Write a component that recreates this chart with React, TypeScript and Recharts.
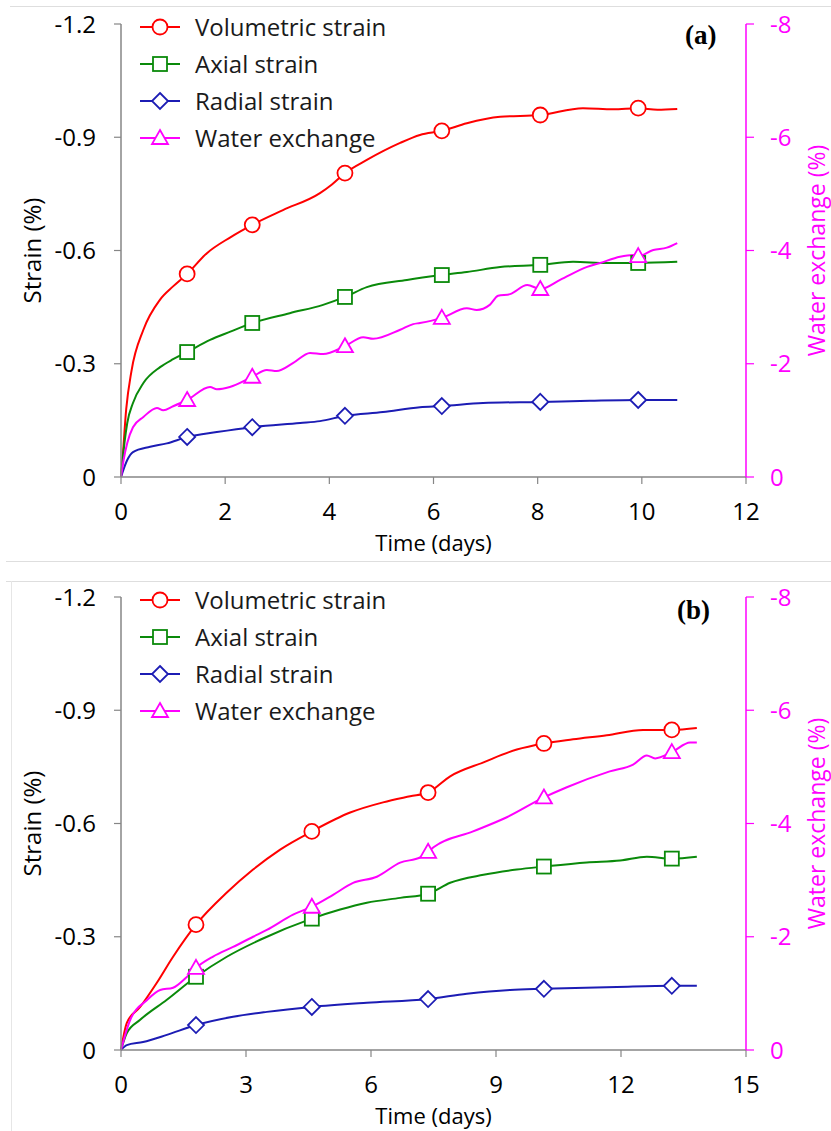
import { LineChart, Line, XAxis, YAxis, Legend, Label } from 'recharts';

type Pt = [number, number];

// ---- panel (a) ----
const volA: Pt[] = [
  [0, 0], [0.02, -0.03], [0.1, -0.18], [0.2, -0.28], [0.43, -0.39], [0.75, -0.47], [1.0, -0.505],
  [1.27, -0.538], [1.65, -0.593], [2.1, -0.635], [2.52, -0.668], [3.11, -0.707], [3.82, -0.752],
  [4.05, -0.775], [4.3, -0.805], [4.72, -0.84], [5.36, -0.885], [5.74, -0.906], [6.16, -0.917],
  [6.64, -0.937], [7.28, -0.954], [8.05, -0.959], [8.87, -0.977], [9.45, -0.974], [9.93, -0.977],
  [10.3, -0.973], [10.68, -0.975],
];
const axialA: Pt[] = [
  [0, 0], [0.02, -0.03], [0.12, -0.143], [0.23, -0.196], [0.43, -0.249], [0.75, -0.291], [1.0, -0.312],
  [1.27, -0.331], [1.71, -0.363], [2.1, -0.385], [2.52, -0.408], [3.24, -0.434], [3.88, -0.456],
  [4.3, -0.477], [4.72, -0.503], [5.49, -0.522], [6.16, -0.535], [6.64, -0.543], [7.28, -0.556],
  [8.05, -0.562], [8.68, -0.57], [9.33, -0.567], [9.93, -0.567], [10.68, -0.57],
];
const radialA: Pt[] = [
  [0, 0], [0.12, -0.045], [0.23, -0.066], [0.56, -0.08], [0.88, -0.089], [1.27, -0.106], [1.84, -0.119],
  [2.52, -0.132], [3.44, -0.143], [3.82, -0.148], [4.3, -0.162], [5.03, -0.172], [5.74, -0.185],
  [6.16, -0.188], [6.95, -0.196], [8.05, -0.199], [9.0, -0.202], [9.93, -0.204], [10.68, -0.204],
];
const waterA: Pt[] = [
  [0, 0], [0.05, -0.3], [0.12, -0.6], [0.23, -0.88], [0.43, -1.06], [0.69, -1.22], [0.81, -1.18],
  [1.0, -1.25], [1.27, -1.36], [1.71, -1.59], [1.84, -1.55], [2.09, -1.59], [2.52, -1.77], [2.8, -1.89],
  [2.99, -1.87], [3.3, -2.01], [3.63, -2.19], [3.88, -2.17], [4.3, -2.31], [4.65, -2.47], [4.84, -2.44],
  [5.36, -2.6], [5.61, -2.7], [5.74, -2.72], [6.16, -2.81], [6.64, -2.98], [6.83, -2.95], [7.08, -3.04],
  [7.24, -3.2], [7.47, -3.23], [7.8, -3.39], [8.05, -3.32], [8.43, -3.48], [8.95, -3.71], [9.2, -3.78],
  [9.58, -3.89], [9.83, -3.92], [9.93, -3.9], [10.22, -4.01], [10.48, -4.05], [10.68, -4.13],
];
const marksA = [1.27, 2.52, 4.3, 6.16, 8.05, 9.93];
const timeTicksA = [0, 2, 4, 6, 8, 10, 12];

// ---- panel (b) ----
const volB: Pt[] = [
  [0, 0], [0.14, -0.072], [0.46, -0.114], [0.86, -0.178], [1.25, -0.247], [1.8, -0.332], [2.54, -0.417],
  [3.17, -0.478], [3.82, -0.531], [4.58, -0.579], [5.5, -0.629], [6.29, -0.656], [6.94, -0.672],
  [7.37, -0.682], [7.9, -0.725], [8.7, -0.762], [9.5, -0.796], [10.15, -0.812], [10.85, -0.823],
  [11.66, -0.834], [12.53, -0.848], [13.22, -0.848], [13.82, -0.853],
];
const axialB: Pt[] = [
  [0, 0], [0.14, -0.045], [0.46, -0.08], [1.1, -0.133], [1.8, -0.194], [2.54, -0.247], [3.34, -0.292],
  [4.58, -0.348], [5.26, -0.372], [5.9, -0.39], [6.7, -0.403], [7.37, -0.414], [7.9, -0.443],
  [8.7, -0.464], [9.5, -0.478], [10.15, -0.486], [11.18, -0.497], [11.98, -0.502], [12.62, -0.512],
  [13.22, -0.507], [13.82, -0.512],
];
const radialB: Pt[] = [
  [0, 0], [0.14, -0.013], [0.53, -0.021], [1.1, -0.04], [1.8, -0.066], [2.69, -0.088], [3.5, -0.101],
  [4.58, -0.114], [5.9, -0.125], [7.37, -0.135], [8.3, -0.149], [9.34, -0.159], [10.15, -0.162],
  [11.9, -0.167], [13.22, -0.17], [13.82, -0.17],
];
const waterB: Pt[] = [
  [0, 0], [0.22, -0.53], [0.62, -0.88], [0.94, -1.06], [1.25, -1.1], [1.58, -1.29], [1.8, -1.45],
  [2.21, -1.65], [2.69, -1.82], [3.17, -2.0], [3.5, -2.12], [4.13, -2.39], [4.58, -2.53], [5.09, -2.74],
  [5.57, -2.95], [6.14, -3.06], [6.7, -3.31], [7.18, -3.4], [7.37, -3.5], [7.5, -3.58], [8.45, -3.86],
  [9.26, -4.11], [10.15, -4.46], [10.7, -4.64], [11.73, -4.92], [12.29, -5.04], [12.62, -5.2],
  [12.82, -5.15], [13.22, -5.26], [13.66, -5.43], [13.82, -5.43],
];
const marksB = [1.8, 4.58, 7.37, 10.15, 13.22];
const timeTicksB = [0, 3, 6, 9, 12, 15];

const strainTicks = [0, -0.3, -0.6, -0.9, -1.2];
const waterTicks = [0, -2, -4, -6, -8];

const SERIES = [
  { key: 'vol', name: 'Volumetric strain', color: '#ff0000', shape: 'circle', axis: 'strain' },
  { key: 'axial', name: 'Axial strain', color: '#0a8a0a', shape: 'square', axis: 'strain' },
  { key: 'radial', name: 'Radial strain', color: '#1c1cb4', shape: 'diamond', axis: 'strain' },
  { key: 'water', name: 'Water exchange', color: '#ff00ff', shape: 'triangle', axis: 'water' },
];

const GRAY = '#868686';
const MAG = '#ff00ff';

function Marker({ shape, cx, cy, color }: { shape: string; cx: number; cy: number; color: string }) {
  const p = { fill: '#fff', stroke: color, strokeWidth: 1.8 };
  if (shape === 'circle') return <circle cx={cx} cy={cy} r={7.5} {...p} />;
  if (shape === 'square') return <rect x={cx - 7} y={cy - 7} width={14} height={14} {...p} />;
  if (shape === 'diamond')
    return <path d={`M${cx},${cy - 8}L${cx + 8},${cy}L${cx},${cy + 8}L${cx - 8},${cy}Z`} {...p} />;
  return <path d={`M${cx},${cy - 8}L${cx + 8},${cy + 6}L${cx - 8},${cy + 6}Z`} {...p} />;
}

const LegendBox = () => (
  <div>
    {SERIES.map((s) => (
      <div key={s.key} style={{ display: 'flex', alignItems: 'center', height: 37 }}>
        <svg width={44} height={20}>
          <line x1={2} x2={42} y1={10} y2={10} stroke={s.color} strokeWidth={1.8} />
          <Marker shape={s.shape} cx={22} cy={10} color={s.color} />
        </svg>
        <span style={{ marginLeft: 13, fontSize: 24, color: '#1a1a1a', whiteSpace: 'nowrap' }}>{s.name}</span>
      </div>
    ))}
  </div>
);

const rows = (pts: Pt[]) => pts.map(([x, y]) => ({ x, y }));

function Panel({ tag, tagLeft, tagTop, data, marks, xMax, xTicks }: {
  tag: string; tagLeft: number; tagTop: number; data: Pt[][]; marks: number[]; xMax: number; xTicks: number[];
}) {
  return (
    <div style={{ position: 'relative', width: 831, height: 557 }}>
      <LineChart width={831} height={557} margin={{ top: 24, right: 0, bottom: 0, left: 0 }}>
        <XAxis dataKey="x" type="number" domain={[0, xMax]} ticks={xTicks} height={80}
          tickSize={7} tickMargin={19} axisLine={{ stroke: GRAY, strokeWidth: 1.5 }}
          tickLine={{ stroke: GRAY, strokeWidth: 1.2 }} tick={{ fill: '#000', fontSize: 24 }}>
          <Label value="Time (days)" position="insideBottom" offset={6} fill="#000" fontSize={22} />
        </XAxis>
        <YAxis yAxisId="strain" width={121} domain={[-1.2, 0]} reversed ticks={strainTicks}
          tickSize={7} tickMargin={18} axisLine={{ stroke: GRAY, strokeWidth: 1.5 }}
          tickLine={{ stroke: GRAY, strokeWidth: 1.2 }} tick={{ fill: '#000', fontSize: 24 }}>
          <Label value="Strain (%)" angle={-90} position="center" dx={-28} fill="#000" fontSize={24} />
        </YAxis>
        <YAxis yAxisId="water" orientation="right" width={85} domain={[-8, 0]} reversed ticks={waterTicks}
          tickSize={8} tickMargin={16} axisLine={{ stroke: MAG, strokeWidth: 1.5 }}
          tickLine={{ stroke: MAG, strokeWidth: 1.2 }} tick={{ fill: MAG, fontSize: 24 }}>
          <Label value="Water exchange (%)" angle={-90} position="center" dx={28} fill={MAG} fontSize={23} />
        </YAxis>
        {SERIES.map((s, i) => (
          <Line key={s.key} yAxisId={s.axis} data={rows(data[i])} dataKey="y" name={s.name} type="monotone"
            stroke={s.color} strokeWidth={2} isAnimationActive={false} activeDot={false}
            dot={(p: any) =>
              marks.includes(p.payload.x) ? (
                <Marker key={`${s.key}-${p.index}`} shape={s.shape} cx={p.cx} cy={p.cy} color={s.color} />
              ) : (
                <g key={`${s.key}-${p.index}`} />
              )
            }
          />
        ))}
        <Legend layout="vertical" align="center" verticalAlign="middle" content={<LegendBox />}
          wrapperStyle={{ left: 138, top: 8, width: 'auto', height: 'auto' }} />
      </LineChart>
      <div style={{ position: 'absolute', left: tagLeft, top: tagTop, fontFamily: '"Liberation Serif", serif',
        fontWeight: 'bold', fontSize: 27, lineHeight: '27px', color: '#000' }}>{tag}</div>
    </div>
  );
}

export default function App() {
  return (
    <div style={{ position: 'absolute', left: 0, top: 0, width: 831, height: 1131, background: '#fff',
      fontFamily: '"Open Sans", sans-serif' }}>
      <div style={{ position: 'absolute', left: 10, top: 6, width: 821, borderTop: '1px solid #dedede' }} />
      <div style={{ position: 'absolute', left: 6, top: 561, width: 825, borderTop: '1px solid #dedede' }} />
      <div style={{ position: 'absolute', left: 6, top: 581, width: 825, borderTop: '1px solid #dedede' }} />
      <div style={{ position: 'absolute', left: 11, top: 581, height: 550, borderLeft: '1px solid #e6e6e6' }} />
      <div style={{ position: 'absolute', left: 0, top: 0 }}>
        <Panel tag="(a)" tagLeft={685} tagTop={22} data={[volA, axialA, radialA, waterA]} marks={marksA}
          xMax={12} xTicks={timeTicksA} />
      </div>
      <div style={{ position: 'absolute', left: 0, top: 573 }}>
        <Panel tag="(b)" tagLeft={677} tagTop={24} data={[volB, axialB, radialB, waterB]} marks={marksB}
          xMax={15} xTicks={timeTicksB} />
      </div>
    </div>
  );
}
